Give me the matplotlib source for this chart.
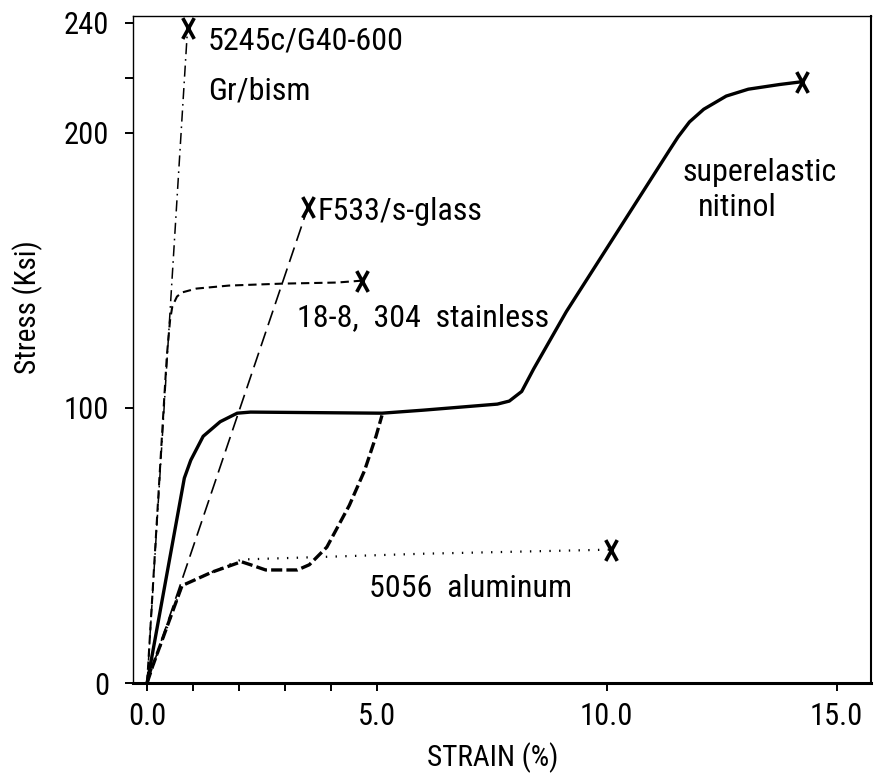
import matplotlib.pyplot as plt
from matplotlib.path import Path

plt.rcParams['font.family'] = ['Roboto Condensed', 'DejaVu Sans']
plt.rcParams['lines.scale_dashes'] = False

# strain (%) / stress (ksi)
gr_strain = [0.0, 0.88]
gr_stress = [0.0, 238.0]

glass_strain = [0.0, 3.5]
glass_stress = [0.0, 173.0]

steel_strain = [0.0, 0.36, 0.43, 0.50, 0.55, 0.65, 0.76, 1.07, 1.78, 2.93, 4.13, 4.68]
steel_stress = [0.0, 100.0, 119.0, 132.0, 137.0, 140.5, 142.0, 143.4, 144.5, 145.2, 145.6, 146.3]

nitinol_strain = [0.0, 0.81, 0.95, 1.22, 1.59, 1.96, 2.25, 5.11, 6.01, 7.62, 7.88, 8.15,
                  8.41, 9.12, 11.36, 11.55, 11.80, 12.11, 12.60, 13.08, 13.76, 14.24]
nitinol_stress = [0.0, 74.5, 81.0, 89.7, 95.0, 98.1, 98.5, 98.1, 99.2, 101.4, 102.5, 106.0,
                  114.2, 135.0, 193.6, 198.5, 204.0, 208.6, 213.4, 215.9, 217.6, 218.6]

al_strain = [0.0, 0.76, 1.41, 2.05, 6.0, 10.1]
al_stress = [0.0, 35.4, 40.3, 44.9, 47.0, 48.5]

lower_strain = [0.0, 0.12, 0.76, 1.41, 2.05, 2.25, 2.58, 3.27, 3.53, 3.91, 4.4, 4.73, 4.98, 5.11]
lower_stress = [0.0, 6.1, 35.4, 40.3, 44.1, 43.0, 41.1, 41.1, 43.0, 49.4, 64.6, 77.2, 89.7, 97.3]

x_ticks = [0, 1, 2, 3, 4, 5, 10, 15]
x_tick_labels = ['0.0', '', '', '', '', '5.0', '10.0', '15.0']
y_ticks = [0, 100, 200, 220, 240]
y_tick_labels = ['0', '100', '200', '', '240']

# tall, narrow "X" used as the failure mark
break_mark = Path([(-0.55, -1), (0.55, 1), (-0.55, 1), (0.55, -1)],
                  [Path.MOVETO, Path.LINETO, Path.MOVETO, Path.LINETO])


def main():
    fig = plt.figure(figsize=(8.74, 7.78), dpi=100)
    ax = fig.add_axes([0.152, 0.1221, 0.8446, 0.8573])

    ax.plot(gr_strain, gr_stress, 'k', lw=1.1, dashes=(8, 3.5, 1.2, 3.5))
    ax.plot(glass_strain, glass_stress, 'k', lw=1.2, dashes=(11, 5))
    ax.plot(steel_strain, steel_stress, 'k', lw=1.5, dashes=(6, 3.5))
    ax.plot(nitinol_strain, nitinol_stress, 'k', lw=2.4, solid_joinstyle='round')
    ax.plot(al_strain, al_stress, 'k', lw=1.6, dashes=(1, 6))
    ax.plot(lower_strain, lower_stress, 'k', lw=2.4, dashes=(8, 3))

    for xs, ys in [(gr_strain, gr_stress), (glass_strain, glass_stress), (steel_strain, steel_stress),
                   (nitinol_strain, nitinol_stress), (al_strain, al_stress)]:
        ax.plot(xs[-1], ys[-1], color='k', marker=break_mark, ms=15, mew=2.6, fillstyle='none')

    ax.set_xlim(-0.31, 15.75)
    ax.set_ylim(0, 242.5)
    ax.set_xticks(x_ticks)
    ax.set_xticklabels(x_tick_labels)
    ax.set_yticks(y_ticks)
    ax.set_yticklabels(y_tick_labels)
    ax.tick_params(axis='both', direction='out', length=6, width=1.4, labelsize=22)
    ax.tick_params(axis='x', pad=8)
    ax.tick_params(axis='y', pad=11)

    ax.spines['left'].set_linewidth(1.0)
    ax.spines['top'].set_linewidth(1.0)
    ax.spines['right'].set_linewidth(1.5)
    ax.spines['bottom'].set_linewidth(2.2)

    ax.set_xlabel('STRAIN (%)', fontsize=21)
    ax.xaxis.set_label_coords(0.488, -0.0885)
    ax.set_ylabel('Stress (Ksi)', fontsize=21)
    ax.yaxis.set_label_coords(-0.122, 0.564)

    txt = dict(transform=ax.transAxes, fontsize=23, ha='left', va='center')
    ax.text(0.102, 0.9625, '5245c/G40-600', **txt)
    ax.text(0.102, 0.8876, 'Gr/bism', **txt)
    ax.text(0.2507, 0.7076, 'F533/s-glass', **txt)
    ax.text(0.2222, 0.5472, '18-8,  304  stainless', **txt)
    ax.text(0.744, 0.766, 'superelastic', **txt)
    ax.text(0.7656, 0.7136, 'nitinol', **txt)
    ax.text(0.3198, 0.141, '5056  aluminum', **txt)

    plt.savefig('out.png', dpi=100)


if __name__ == '__main__':
    main()
